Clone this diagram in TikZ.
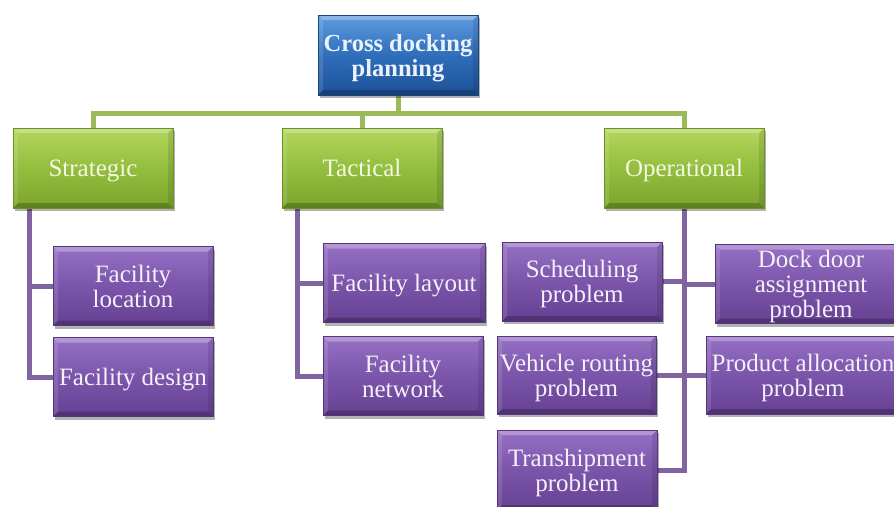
\documentclass[tikz,border=0pt]{standalone}
\usepackage{fontspec}
\setmainfont{Liberation Serif}
\usetikzlibrary{shadows,backgrounds}
\definecolor{gconn}{HTML}{9BBB59}
\definecolor{pconn}{HTML}{8064A2}
\definecolor{btop}{HTML}{5E9BE0}
\definecolor{bmid}{HTML}{2F6EBA}
\definecolor{bbot}{HTML}{1E5099}
\definecolor{bdraw}{HTML}{1A4680}
\definecolor{gtop}{HTML}{B3D65C}
\definecolor{gmid}{HTML}{93BE3E}
\definecolor{gbot}{HTML}{7BA52C}
\definecolor{gdraw}{HTML}{6C9224}
\definecolor{ptop}{HTML}{9670C4}
\definecolor{pmid}{HTML}{7B55AA}
\definecolor{pbot}{HTML}{664092}
\definecolor{pdraw}{HTML}{553580}
\definecolor{btext}{HTML}{EAF2FC}
\definecolor{gtext}{HTML}{F4F9E2}
\definecolor{ptext}{HTML}{F5F0FA}
\tikzset{
  bevel/.style={path picture={
    \coordinate (bnw) at (path picture bounding box.north west);
    \coordinate (bne) at (path picture bounding box.north east);
    \coordinate (bsw) at (path picture bounding box.south west);
    \coordinate (bse) at (path picture bounding box.south east);
    \fill[white,opacity=0.28] (bnw) -- (bne) -- ([xshift=-5pt,yshift=-5pt]bne) -- ([xshift=5pt,yshift=-5pt]bnw) -- cycle;
    \fill[white,opacity=0.12] (bnw) -- ([xshift=5pt,yshift=-5pt]bnw) -- ([xshift=5pt,yshift=5pt]bsw) -- (bsw) -- cycle;
    \fill[black,opacity=0.10] (bne) -- ([xshift=-5pt,yshift=-5pt]bne) -- ([xshift=-5pt,yshift=5pt]bse) -- (bse) -- cycle;
    \fill[black,opacity=0.22] (bsw) -- (bse) -- ([xshift=-5pt,yshift=5pt]bse) -- ([xshift=5pt,yshift=5pt]bsw) -- cycle;
  }},
  bx/.style={rectangle, inner sep=0pt, align=center, line width=0.8pt, bevel,
    font=\fontsize{25}{25}\selectfont, text depth=0pt,
    drop shadow={shadow xshift=2pt, shadow yshift=-3pt, opacity=0.3, fill=black}},
  bluebox/.style={bx, top color=btop, bottom color=bbot, middle color=bmid, draw=bdraw,
    text=btext, font=\bfseries\fontsize{24.5}{25}\selectfont,
    minimum width=160pt, minimum height=80pt},
  greenbox/.style={bx, top color=gtop, bottom color=gbot, middle color=gmid, draw=gdraw,
    text=gtext, minimum width=160pt, minimum height=80pt},
  purplebox/.style={bx, top color=ptop, bottom color=pbot, middle color=pmid, draw=pdraw,
    text=ptext, minimum width=160pt, minimum height=79pt},
  gline/.style={draw=gconn, line width=5pt},
  pline/.style={draw=pconn, line width=5pt}
}
\begin{document}
\begin{tikzpicture}[x=1pt,y=-1pt]
\useasboundingbox (0,0) rectangle (894,506);
\begin{scope}[on background layer]
  \fill[white] (0,0) rectangle (894,506);
\end{scope}
\clip (0,0) rectangle (894,506);
% top
\node[bluebox] (top) at (398,55) {Cross docking\\planning};
% level 2
\node[greenbox] (strat) at (93,168) {Strategic};
\node[greenbox] (tact) at (362,168) {Tactical};
\node[greenbox] (oper) at (684,168) {Operational};
\coordinate (bar) at (0,113);
% strategic children
\node[purplebox] (floc) at (133,286) {Facility\\location};
\node[purplebox] (fdes) at (133,377) {Facility design};
% tactical children
\node[purplebox, minimum width=162pt] (flay) at (404,283) {Facility layout};
\node[purplebox] (fnet) at (403,376) {Facility\\network};
% operational children
\node[purplebox] (sched) at (582,281.5) {Scheduling\\problem};
\node[purplebox, minimum width=192pt] (dock) at (811,284) {Dock door\\assignment\\problem};
\node[purplebox, minimum width=159pt, minimum height=78pt] (veh) at (576.5,375) {Vehicle routing\\problem};
\node[purplebox, minimum width=194pt, minimum height=78pt] (prod) at (803,375) {Product allocation\\problem};
\node[purplebox, minimum height=80pt] (trans) at (577,470) {Transhipment\\problem};
\begin{scope}[on background layer]
  \draw[gline] (top.south) -- (top.south |- bar);
  \draw[gline] (strat.north) -- (strat.north |- bar) -- (oper.north |- bar) -- (oper.north);
  \draw[gline] (tact.north) -- (tact.north |- bar);
  \draw[pline] ([xshift=17pt]strat.south west) |- (floc.west);
  \draw[pline] ([xshift=17pt]strat.south west) |- (fdes.west);
  \draw[pline] ([xshift=16pt]tact.south west) |- (flay.west);
  \draw[pline] ([xshift=16pt]tact.south west) |- (fnet.west);
  \draw[pline] (oper.south) |- (trans.east);
  \draw[pline] (sched.east) -- (sched.east -| oper.south);
  \draw[pline] (dock.west) -- (dock.west -| oper.south);
  \draw[pline] (veh.east) -- (veh.east -| oper.south);
  \draw[pline] (prod.west) -- (prod.west -| oper.south);
\end{scope}
\end{tikzpicture}
\end{document}
